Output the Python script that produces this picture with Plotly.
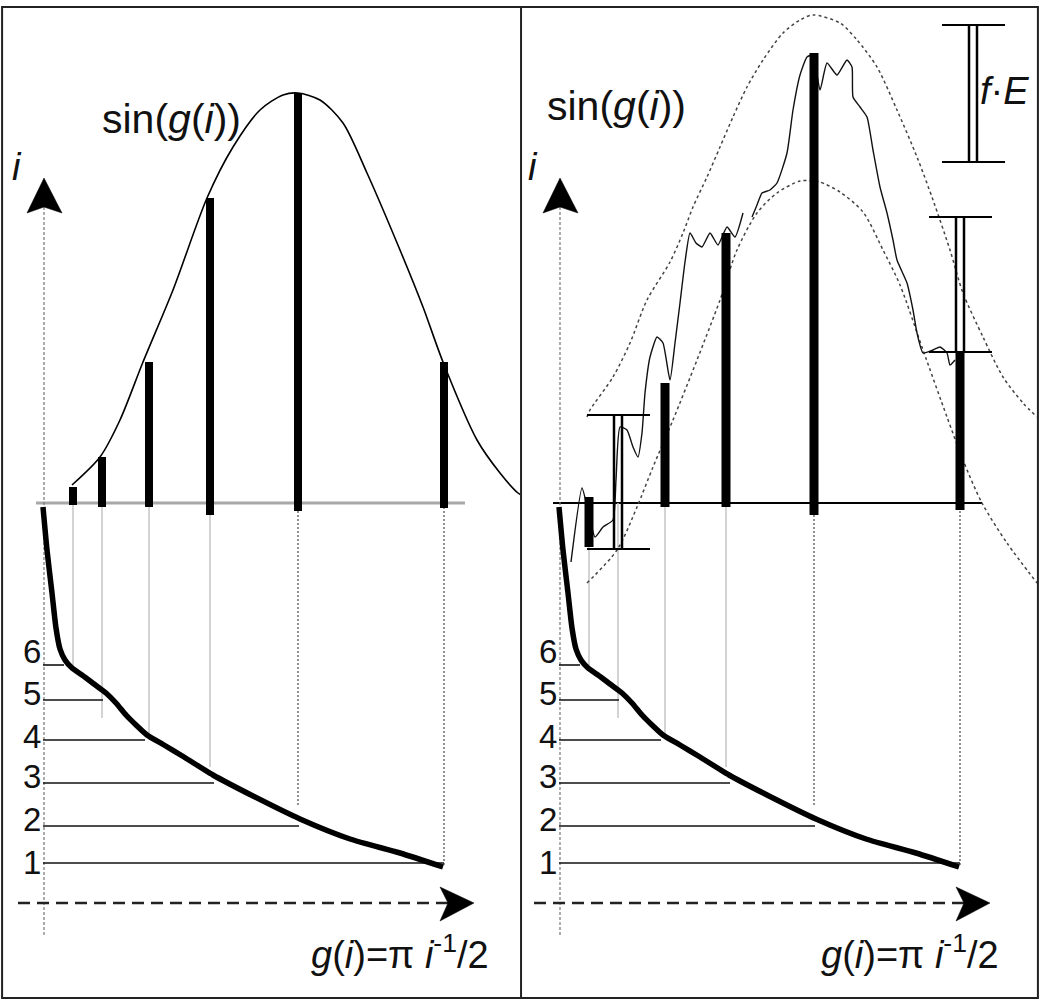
import plotly.graph_objects as go

# ---------------- data (schematic units: x = position along g(i), y = amplitude; below 0 = i-scale) ----
i_vals = [6, 5, 4, 3, 2, 1]
g_pos = [29, 58, 105, 166, 254, 400]            # g(i) position of each i
i_level = [-162, -197, -237, -280, -323, -360]  # height of each i on the lower i-scale
i_label_y = [-148, -190, -233, -273, -316, -359]
level_end = [20, 59, 101, 170, 255, 400]
connector_end = [-164, -215, -234, -264, -304, -364]

# left panel: ideal sin(g(i)) bars and curve
sin_top_left = [16, 46, 141, 305, 410, 141]
sin_bot_left = [-2, -4, -4, -12, -8, -5]
sin_curve_x = [28, 56, 76, 99, 129, 163, 189, 216, 239, 254, 276, 299, 323, 356, 379, 399, 433, 456, 474, 481]
sin_curve_y = [18, 46, 83, 141, 213, 305, 356, 393, 408, 410, 403, 380, 330, 253, 196, 141, 63, 30, 10, 6]

# i vs g(i) curve (both panels)
icurve_x = [-1, 3, 8, 12, 16, 21, 28, 38, 50, 62, 72, 82, 92, 103, 120, 140, 169, 209, 256, 306, 356, 399]
icurve_y = [-4, -47, -90, -125, -146, -157, -165, -172, -181, -190, -200, -212, -222, -232, -242, -254, -272, -293, -316, -336, -350, -364]

# right panel: measured bars
meas_top_right = [6, None, 120, 270, 450, 151]
meas_bot_right = [-44, None, -4, -4, -12, -7]

# error bars (f*E) on right panel: i=5, i=1 and legend sample
err_x = [58, 400, 413]
err_hi = [88, 286, 478]
err_lo = [-46, 151, 341]

upper_env_x = [27, 30, 53, 70, 87, 110, 123, 133, 147, 160, 173, 187, 203, 223, 240, 253, 280, 297, 317, 337, 357, 373, 390, 403, 423, 443, 463, 477]
upper_env_y = [86, 93, 126, 160, 203, 241, 270, 296, 326, 356, 386, 416, 443, 470, 483, 488, 480, 463, 436, 393, 346, 303, 253, 210, 166, 126, 100, 86]
lower_env_x = [27, 57, 77, 93, 113, 137, 160, 177, 197, 217, 240, 253, 260, 280, 303, 323, 340, 363, 387, 403, 422, 447, 477]
lower_env_y = [-80, -47, -4, 36, 83, 143, 203, 253, 290, 310, 322, 322, 321, 311, 291, 253, 218, 153, 86, 43, 0, -40, -80]

meas_x = [11, 22, 28, 35, 43, 53, 56, 60, 67, 73, 78, 82, 85, 90, 97, 103, 110, 115, 120, 125, 130, 136, 142, 150, 158, 167, 175, 183,
          None, 192, 197, 202, 210, 217, 227, 233, 240, 247, 253, 260, 267, 277, 287, 292, 293, 300, 307, 313, 320, 327, 333, 337,
          347, 353, 357, 363, 373, 380, 387, 390, 395]
meas_y = [-59, 15, -7, -34, -24, -17, 23, 76, 73, 56, 46, 70, 110, 146, 166, 160, 123, 160, 200, 241, 270, 260, 256, 270, 258, 276, 266, 290,
          None, 286, 298, 310, 313, 320, 350, 393, 428, 446, 448, 413, 440, 428, 443, 436, 406, 396, 386, 353, 316, 290, 263, 243,
          220, 193, 170, 150, 153, 156, 150, 138, 143]

FONT = "Arial, Liberation Sans, sans-serif"
L = ("x", "y")
R = ("x2", "y2")

fig = go.Figure()
shapes = []


def line(x, y, ax, color="black", width=1.5, dash=None, shape="linear", smoothing=1.0):
    fig.add_trace(go.Scatter(x=x, y=y, mode="lines", xaxis=ax[0], yaxis=ax[1],
                             line=dict(color=color, width=width, dash=dash, shape=shape,
                                       smoothing=smoothing if shape == "spline" else None),
                             hoverinfo="skip", showlegend=False, connectgaps=False))


def poly(x, y, ax):
    fig.add_trace(go.Scatter(x=x, y=y, mode="lines", fill="toself", fillcolor="black",
                             line=dict(color="black", width=0.5), xaxis=ax[0], yaxis=ax[1],
                             hoverinfo="skip", showlegend=False))


def bars(tops, bots, ax, width):
    xs, ys = [], []
    for gx, t, b in zip(g_pos, tops, bots):
        if t is None:
            continue
        xs += [gx, gx, None]
        ys += [b, t, None]
    line(xs, ys, ax, color="black", width=width)


def common(ax, baseline_color, baseline_width, base_x0, base_x1):
    # baseline (drawn beneath the marks)
    shapes.append(dict(type="line", xref=ax[0], yref=ax[1], x0=base_x0, x1=base_x1, y0=0, y1=0,
                       layer="below", line=dict(color=baseline_color, width=baseline_width)))
    # i-axis (dotted) and arrow head
    line([0, 0], [296, -434], ax, color="#777", width=1.2, dash="3px,2px")
    poly([0, -17, 0, 18, 0], [325, 290, 296, 290, 325], ax)
    # connectors from g(i) positions down to the i-curve
    for k, (gx, ce) in enumerate(zip(g_pos, connector_end)):
        if k < 4:
            line([gx, gx], [0, ce], ax, color="#c4c4c4", width=1.5)
        else:
            line([gx, gx], [0, ce], ax, color="#555", width=1.3, dash="2px,2px")
    # i levels
    for lv, le in zip(i_level, level_end):
        line([-1, le], [lv, lv], ax, color="#111", width=1.6)
    # thick i-curve
    line(icurve_x, icurve_y, ax, color="black", width=5.5, shape="spline", smoothing=0.6)
    # horizontal dashed g axis + arrow
    line([-26, 404], [-400, -400], ax, color="#222", width=2.5, dash="12px,7px")
    poly([430, 396, 404, 396, 430], [-400, -384, -400, -418, -400], ax)


# ---------------- left panel ----------------
common(L, "#a8a8a8", 3, -8, 421)
line(sin_curve_x, sin_curve_y, L, color="black", width=1.6, shape="spline", smoothing=0.8)
bars(sin_top_left, sin_bot_left, L, 8)

# ---------------- right panel ----------------
common(R, "black", 2, -7, 422)
line(upper_env_x, upper_env_y, R, color="#444", width=1.5, dash="dot", shape="spline", smoothing=0.8)
line(lower_env_x, lower_env_y, R, color="#444", width=1.5, dash="dot", shape="spline", smoothing=0.8)
line(meas_x, meas_y, R, color="#111", width=1.4, shape="spline", smoothing=0.5)
bars(meas_top_right, meas_bot_right, R, 9)
for ex, hi, lo in zip(err_x, err_hi, err_lo):
    line([ex - 4, ex - 4], [lo, hi], R, color="black", width=2.5)
    line([ex + 4, ex + 4], [lo, hi], R, color="black", width=2.5)
    line([ex - 31, ex + 32], [hi, hi], R, color="black", width=2)
    line([ex - 31, ex + 32], [lo, lo], R, color="black", width=2)

# ---------------- text ----------------
ann = []


def txt(text, x, y, ax, size, xanchor="center"):
    ann.append(dict(text=text, x=x, y=y, xref=ax[0], yref=ax[1], showarrow=False, xanchor=xanchor,
                    yanchor="middle", font=dict(family=FONT, size=size, color="#111")))


for ax, sx, sy, gx in [(L, 127, 384, 356), (R, 56, 397, 350)]:
    txt("sin(<i>g</i>(<i>i</i>))", sx, sy, ax, 41)
    txt("<i>i</i>", -27, 336, ax, 38)
    txt("<i>g</i>(<i>i</i>)=π <i>i</i><sup>-1</sup>/2", gx, -449, ax, 38)
    for iv, ly in zip(i_vals, i_label_y):
        txt(str(iv), -12, ly, ax, 33)
txt("<i>f</i>·<i>E</i>", 444, 412, R, 38)

# ---------------- frame ----------------
shapes += [
    dict(type="rect", xref="paper", yref="paper", x0=0.002, x1=0.998, y0=0.002, y1=0.993,
         line=dict(color="#222", width=2)),
    dict(type="line", xref="paper", yref="paper", x0=0.501, x1=0.501, y0=0.002, y1=0.993,
         line=dict(color="#222", width=2)),
]

ax_common = dict(visible=False, fixedrange=True, showgrid=False, zeroline=False)
fig.update_layout(
    width=1040, height=1000, margin=dict(l=0, r=0, t=0, b=0),
    paper_bgcolor="white", plot_bgcolor="white",
    hovermode=False, showlegend=False,
    xaxis=dict(domain=[0, 0.5], range=[-44, 476], anchor="y", **ax_common),
    xaxis2=dict(domain=[0.5, 1], range=[-40, 480], anchor="y2", **ax_common),
    yaxis=dict(domain=[0, 1], range=[-497, 503], anchor="x", **ax_common),
    yaxis2=dict(domain=[0, 1], range=[-497, 503], anchor="x2", **ax_common),
    annotations=ann, shapes=shapes,
)

fig.write_html("out.html", config={"displayModeBar": False},
               post_script="document.body.style.margin='0';")
